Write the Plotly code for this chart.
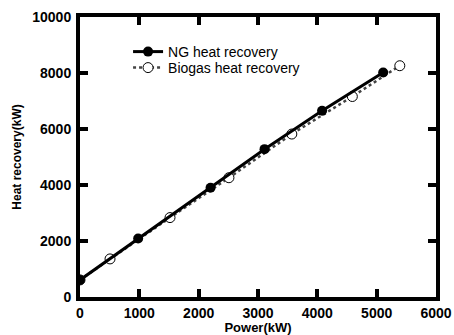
import plotly.graph_objects as go

ng_power = [0, 980, 2200, 3110, 4080, 5110]
ng_heat = [610, 2090, 3900, 5280, 6650, 8020]
bio_power = [0, 506, 1517, 2510, 3570, 4590, 5390]
bio_heat = [610, 1360, 2836, 4260, 5820, 7160, 8260]

x_ticks = [0, 1000, 2000, 3000, 4000, 5000, 6000]
y_ticks = [0, 2000, 4000, 6000, 8000, 10000]

FONT = "Liberation Sans"

fig = go.Figure()
fig.add_trace(go.Scatter(
    x=bio_power, y=bio_heat, mode="lines+markers", name="Biogas heat recovery",
    line=dict(color="#444444", width=2.5, dash="dot"),
    marker=dict(symbol="circle", size=10, color="white", line=dict(color="black", width=1)),
    legend="legend2",
))
fig.add_trace(go.Scatter(
    x=ng_power, y=ng_heat, mode="lines+markers", name="NG heat recovery",
    line=dict(color="black", width=3),
    marker=dict(symbol="circle", size=10, color="black"),
    legend="legend",
))

axis_common = dict(
    showline=True, linewidth=4, linecolor="black", mirror="ticks",
    ticks="inside", ticklen=8, tickwidth=3.5, tickcolor="black",
    showgrid=False, zeroline=False, automargin=False,
    tickfont=dict(family=FONT, size=14, color="black", weight="bold"),
)

fig.update_xaxes(
    range=[0, 6000], tickvals=x_ticks, ticktext=[str(v) for v in x_ticks],
    ticklabelstandoff=0,
    title=dict(text="Power(kW)", font=dict(family=FONT, size=13, color="black", weight="bold"), standoff=0),
    **axis_common,
)
fig.update_yaxes(
    range=[0, 10000], tickvals=y_ticks, ticktext=[str(v) for v in y_ticks],
    ticklabelstandoff=2,
    title=dict(text="Heat recovery(kW)", font=dict(family=FONT, size=12, color="black", weight="bold"), standoff=9),
    **axis_common,
)

leg_common = dict(xanchor="left", yanchor="middle", bgcolor="rgba(0,0,0,0)",
                  font=dict(family=FONT, size=14, color="black"), itemwidth=30)
fig.update_layout(
    width=454, height=335,
    margin=dict(l=80, r=18, t=17, b=38),
    plot_bgcolor="white", paper_bgcolor="white",
    showlegend=True,
    legend=dict(x=0.135, y=(297 - 52) / 280, **leg_common),
    legend2=dict(x=0.135, y=(297 - 68) / 280, **leg_common),
)

fig.write_html("out.html")
